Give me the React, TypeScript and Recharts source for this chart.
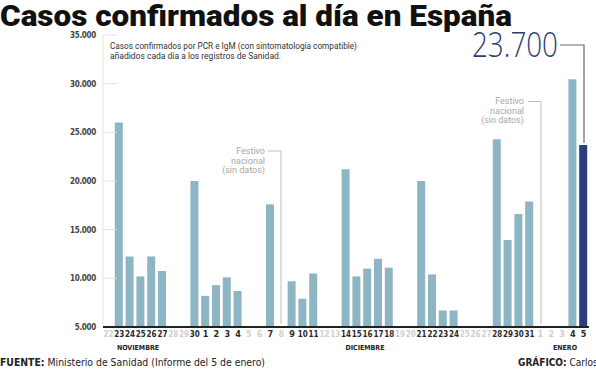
import React from "react";
import { BarChart, Bar, XAxis, YAxis, Cell } from "recharts";

// Days shown on the x axis (22 Nov - 5 Jan)
const DAYS = [
  "22", "23", "24", "25", "26", "27", "28", "29", "30",
  "1", "2", "3", "4", "5", "6", "7", "8", "9", "10", "11", "12", "13", "14", "15",
  "16", "17", "18", "19", "20", "21", "22", "23", "24", "25", "26", "27", "28", "29", "30", "31",
  "1", "2", "3", "4", "5",
];
const MONTHS = ["N", "N", "N", "N", "N", "N", "N", "N", "N",
  ...Array(31).fill("D"), "E", "E", "E", "E", "E"];

// Confirmed cases added each day (null = no report)
const CASES = [
  null, 26000, 12250, 10200, 12250, 10750, null, null, 20000,
  8200, 9300, 10100, 8700, null, null, 17600, null, 9700, 7900, 10500, null, null,
  21200, 10200, 11000, 12000, 11100, null, null, 20000, 10400, 6700, 6700, null, null, null,
  24300, 13950, 16600, 17900,
  null, null, null, 30450, 23700,
];

const Y_TICKS = [5000, 10000, 15000, 20000, 25000, 30000, 35000];

const data = DAYS.map((d, i) => ({ key: MONTHS[i] + d, day: d, v: CASES[i] }));

const LIGHT = "#8db5c4";
const DARK = "#2b3d7f";
const COND = "'DejaVu Sans Condensed', Roboto, sans-serif";

const fmt = (n: number) => n.toLocaleString("de-DE");

function YTick(props: any) {
  const { x, y, payload } = props;
  return (
    <g>
      <text x={x} y={y} dy={3} textAnchor="end" fontSize={8} fontWeight={600}
        fill="#444" fontFamily={COND} letterSpacing={-0.3}>
        {fmt(payload.value)}
      </text>
      {payload.value !== 5000 && (
        <line x1={x + 7} x2={x + 21} y1={y} y2={y} stroke="#e2e2e2" />
      )}
    </g>
  );
}

function XTick(props: any) {
  const { x, y, index } = props;
  const d = data[index];
  const has = d && d.v != null;
  return (
    <text x={x} y={y} dy={7} textAnchor="middle" fontSize={9} fontWeight={700}
      fill={has ? "#2a2a2a" : "#cfcfcf"} fontFamily={COND}
      textLength={d && d.day.length > 1 ? 10 : undefined} lengthAdjust="spacingAndGlyphs">
      {d ? d.day : ""}
    </text>
  );
}

export default function App() {
  return (
    <div style={{ position: "fixed", left: 0, top: 0, width: 596, height: 370, background: "#fff", overflow: "hidden" }}>
      <BarChart width={596} height={370} data={data}
        margin={{ top: 35, right: 7, bottom: 0, left: 0 }}>
        <YAxis domain={[5000, 35000]} ticks={Y_TICKS} width={103} tickSize={0} tickMargin={7}
          axisLine={{ stroke: "#e4e4e4" }} tick={<YTick />} interval={0} allowDataOverflow />
        <XAxis dataKey="key" interval={0} tickSize={0} tickMargin={3} height={43}
          axisLine={{ stroke: "#222", strokeWidth: 2 }} tick={<XTick />} />
        <Bar dataKey="v" barSize={8} isAnimationActive={false}>
          {data.map((d, i) => (
            <Cell key={i} fill={i === data.length - 1 ? DARK : LIGHT} />
          ))}
        </Bar>
      </BarChart>

      <svg width={596} height={370} style={{ position: "absolute", left: 0, top: 0, pointerEvents: "none" }}>
        <text x={0} y={26} fontSize={29} fontWeight={900} fill="#111" fontFamily="Roboto, sans-serif"
          textLength={512} lengthAdjust="spacingAndGlyphs">
          Casos confirmados al día en España
        </text>

        <text x={110} y={48.5} fontSize={8.5} fill="#333" fontFamily="Roboto, sans-serif"
          textLength={247} lengthAdjust="spacingAndGlyphs">
          Casos confirmados por PCR e IgM (con sintomatología compatible)
        </text>
        <text x={110} y={58.5} fontSize={8.5} fill="#333" fontFamily="Roboto, sans-serif">
          añadidos cada día a los registros de Sanidad.
        </text>

        {/* big value annotation */}
        <text x={472} y={57} fontSize={34} fontWeight={300} fill="#2f3c6e" fontFamily="'Open Sans', sans-serif"
          textLength={86} lengthAdjust="spacingAndGlyphs">
          23.700
        </text>
        <polyline points="560,45 584,45 584,143" fill="none" stroke="#666" strokeWidth={1.2} />

        {/* Festivo notes */}
        <g fontSize={9} fill="#a8a8a8" fontFamily="Roboto, sans-serif" textAnchor="end">
          <text x={265} y={154}>Festivo</text>
          <text x={265} y={163.5}>nacional</text>
          <text x={265} y={173}>(sin datos)</text>
          <text x={524} y={104}>Festivo</text>
          <text x={524} y={113.5}>nacional</text>
          <text x={524} y={123}>(sin datos)</text>
        </g>
        <polyline points="268,151 281,151 281,324" fill="none" stroke="#bdbdbd" strokeWidth={1} />
        <polyline points="528,101.5 541,101.5 541,324" fill="none" stroke="#bdbdbd" strokeWidth={1} />

        {/* month labels */}
        <g fontSize={7} fontWeight={700} fill="#222" fontFamily={COND} textAnchor="middle">
          <text x={138} y={350}>NOVIEMBRE</text>
          <text x={365} y={350}>DICIEMBRE</text>
          <text x={565} y={350}>ENERO</text>
        </g>

        {/* footer */}
        <text x={0} y={366} fontSize={10} fill="#222" fontFamily={COND}
          textLength={265} lengthAdjust="spacingAndGlyphs">
          <tspan fontWeight={700}>FUENTE:</tspan> Ministerio de Sanidad (Informe del 5 de enero)
        </text>
        <text x={518} y={366} fontSize={10} fill="#222" fontFamily={COND}>
          <tspan fontWeight={700}>GRÁFICO:</tspan> Carlos
        </text>
      </svg>
    </div>
  );
}
